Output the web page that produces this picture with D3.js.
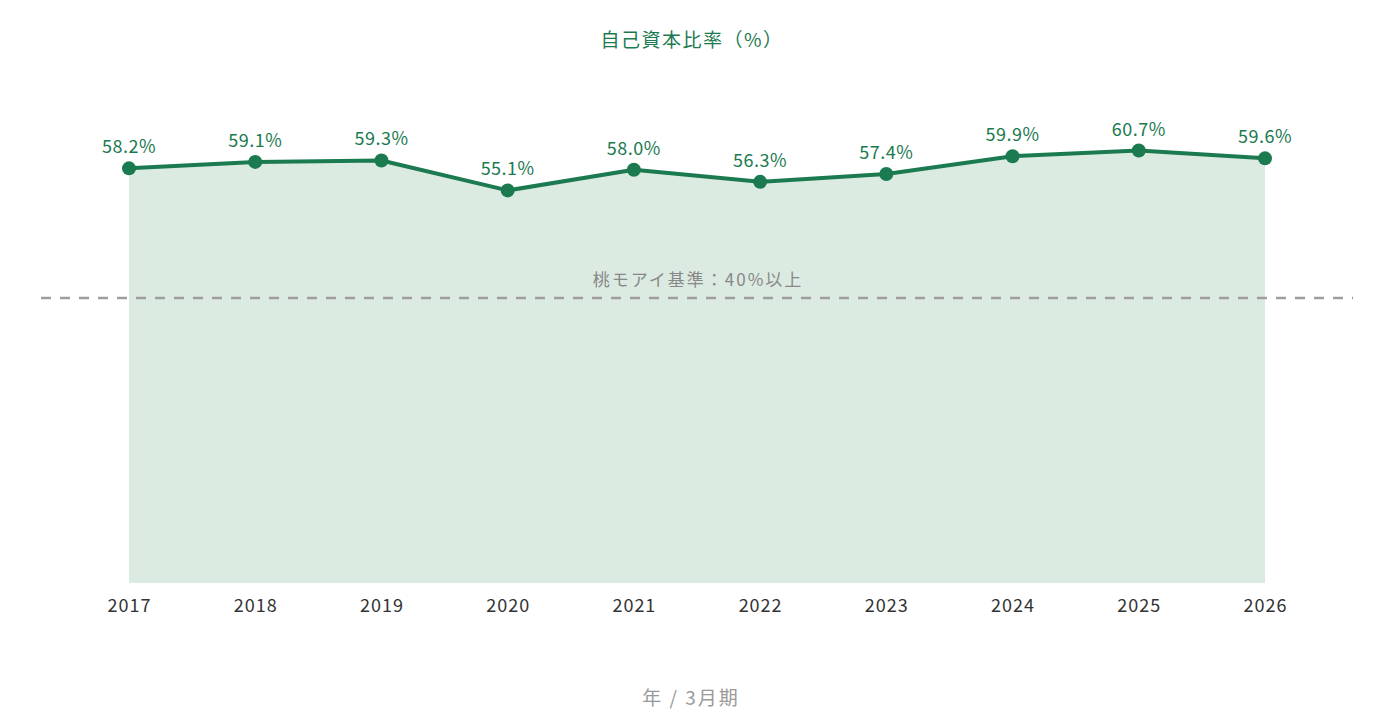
<!DOCTYPE html>
<html>
<head>
<meta charset="utf-8">
<script src="https://cdn.jsdelivr.net/npm/d3@7"></script>
<style>
  html, body { margin: 0; padding: 0; background: #fff; }
  svg { display: block; font-family: "Noto Sans CJK JP", "Noto Sans", sans-serif; }
</style>
</head>
<body>
<div id="chart"></div>
<script>
const years = ["2017", "2018", "2019", "2020", "2021", "2022", "2023", "2024", "2025", "2026"];
const ratios = [58.2, 59.1, 59.3, 55.1, 58.0, 56.3, 57.4, 59.9, 60.7, 59.6];
const benchmark = 40;
const benchmarkLabel = "桃モアイ基準：40%以上";
const chartTitle = "自己資本比率（%）";
const xTitle = "年 / 3月期";

const width = 1380, height = 720;
const green = "#1b7a50";

const data = years.map((y, i) => ({ year: y, value: ratios[i] }));

const svg = d3.select("#chart").append("svg")
  .attr("width", width)
  .attr("height", height);

const x = d3.scalePoint()
  .domain(years)
  .range([129, 1265]);

const y = d3.scaleLinear()
  .domain([0, 70])
  .range([583, 84.25]);

// area under the line
const area = d3.area()
  .x(d => x(d.year))
  .y0(y(0))
  .y1(d => y(d.value));

svg.append("path")
  .datum(data)
  .attr("d", area)
  .attr("fill", "#dcebe2");

// benchmark dashed line
svg.append("line")
  .attr("x1", 41)
  .attr("x2", 1353)
  .attr("y1", y(benchmark))
  .attr("y2", y(benchmark))
  .attr("stroke", "#9e9e9e")
  .attr("stroke-width", 2.5)
  .attr("stroke-dasharray", "10,9");

svg.append("text")
  .attr("x", 698)
  .attr("y", y(benchmark) - 12.5)
  .attr("text-anchor", "middle")
  .attr("fill", "#888")
  .style("font-size", "17px")
  .style("letter-spacing", "2px")
  .text(benchmarkLabel);

// line
const line = d3.line()
  .x(d => x(d.year))
  .y(d => y(d.value));

svg.append("path")
  .datum(data)
  .attr("d", line)
  .attr("fill", "none")
  .attr("stroke", green)
  .attr("stroke-width", 4)
  .attr("stroke-linejoin", "round");

svg.append("g")
  .selectAll("circle")
  .data(data)
  .enter().append("circle")
  .attr("cx", d => x(d.year))
  .attr("cy", d => y(d.value))
  .attr("r", 7)
  .attr("fill", green);

svg.append("g")
  .selectAll("text")
  .data(data)
  .enter().append("text")
  .attr("x", d => x(d.year))
  .attr("y", d => y(d.value) - 15)
  .attr("text-anchor", "middle")
  .attr("fill", green)
  .style("font-size", "18px")
  .style("letter-spacing", "0.5px")
  .text(d => d.value.toFixed(1) + "%");

// x axis
const xAxis = svg.append("g")
  .attr("transform", "translate(0," + y(0) + ")")
  .call(d3.axisBottom(x).tickSize(0));
xAxis.select(".domain").remove();
xAxis.selectAll("text")
  .attr("y", 29)
  .attr("dy", 0)
  .attr("fill", "#333")
  .style("font-size", "18px")
  .style("letter-spacing", "1px")
  .style("font-family", "\"Noto Sans CJK JP\", \"Noto Sans\", sans-serif");

// titles
svg.append("text")
  .attr("x", 692)
  .attr("y", 47)
  .attr("text-anchor", "middle")
  .attr("fill", green)
  .style("font-size", "19px")
  .style("letter-spacing", "1.5px")
  .text(chartTitle);

svg.append("text")
  .attr("x", 691)
  .attr("y", 705)
  .attr("text-anchor", "middle")
  .attr("fill", "#999")
  .style("font-size", "19px")
  .style("letter-spacing", "2px")
  .text(xTitle);
</script>
</body>
</html>
